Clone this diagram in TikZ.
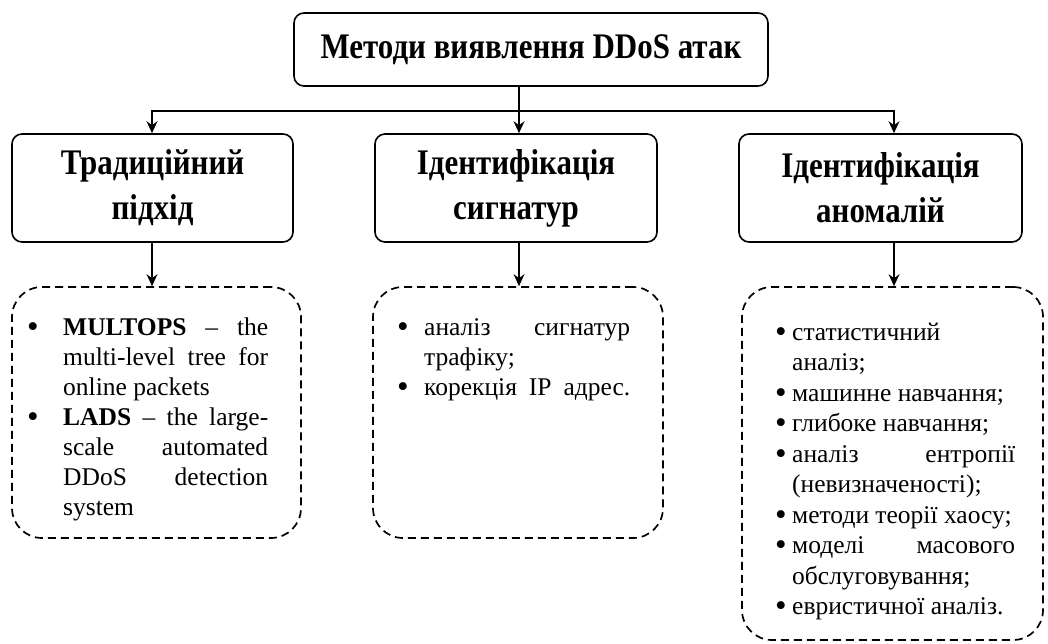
\documentclass[tikz,border=0pt]{standalone}
\usepackage{fontspec}
\setmainfont{Liberation Serif}
\newfontfamily\headfont[FakeStretch=0.86]{Liberation Serif}
\usetikzlibrary{arrows.meta}

\newcommand\bitem[2]{\par\noindent\hangindent=#1\hangafter=1\makebox[#1][l]{\raisebox{-2pt}{\fontsize{33}{30}\selectfont\textbullet}}\ignorespaces#2}

\begin{document}
\begin{tikzpicture}[x=1pt,y=-1pt,
  hbox/.style={draw, line width=1.6pt, rounded corners=10pt, align=center,
    font=\fontsize{36}{45}\selectfont\headfont\bfseries},
  dbox/.style={draw, line width=1.7pt, dash pattern=on 8pt off 5pt, rounded corners=30pt},
  lst/.style={anchor=base west, inner sep=0pt},
  wire/.style={line width=1.4pt, -{Stealth[length=12pt,width=11pt,inset=4pt]}}]
\useasboundingbox (0,0) rectangle (1048,644);
\node[hbox, minimum width=474pt, minimum height=73pt] (m0) at (531,49.5) {Методи виявлення DDoS атак};
\node[hbox, minimum width=281pt, minimum height=108pt] (m1) at (152.5,188) {Традиційний\\підхід};
\node[hbox, minimum width=282pt, minimum height=108pt] (m2) at (516,188) {Ідентифікація\\сигнатур};
\node[hbox, minimum width=283pt, minimum height=108pt] (m3) at (880.5,188) {Ідентифікація\\аномалій};
\node[dbox, minimum width=289pt, minimum height=251pt] (l1) at (156.5,412.5) {};
\node[dbox, minimum width=290pt, minimum height=251pt] (l2) at (518,412.5) {};
\node[dbox, minimum width=301pt, minimum height=353pt] (l3) at (892.5,463.5) {};
\node[lst] (t1) at (27,335) {\parbox[t]{241pt}{\fontsize{25.5}{30}\selectfont\hyphenpenalty=10000
  \bitem{36pt}{\textbf{MULTOPS} – the\linebreak multi-level tree for\linebreak online packets}
  \bitem{36pt}{\textbf{LADS} – the large-\linebreak scale automated\linebreak DDoS detection\linebreak system}}};
\node[lst] (t2) at (397,335) {\parbox[t]{233pt}{\fontsize{25.5}{30}\selectfont\hyphenpenalty=10000
  \bitem{27pt}{аналіз сигнатур\linebreak трафіку;}
  \bitem{27pt}{\parfillskip=0pt корекція IP адрес.}}};
\node[lst] (t3) at (775,340) {\parbox[t]{240pt}{\fontsize{25.5}{30.5}\selectfont\hyphenpenalty=10000
  \bitem{17pt}{статистичний\newline аналіз;}
  \bitem{17pt}{машинне навчання;}
  \bitem{17pt}{глибоке навчання;}
  \bitem{17pt}{аналіз ентропії\linebreak (невизначеності);}
  \bitem{17pt}{методи теорії хаосу;}
  \bitem{17pt}{моделі масового\linebreak обслуговування;}
  \bitem{17pt}{евристичної аналіз.}}};
\coordinate (j0) at (519,111);
\coordinate (j1) at (152,111);
\coordinate (j3) at (894,111);
\draw[wire, -] (m0.south -| j0) -- (j0);
\draw[wire] (j0) -- (j1) -- (j1 |- m1.north);
\draw[wire] (j0) -- (j3) -- (j3 |- m3.north);
\draw[wire] (j0) -- (j0 |- m2.north);
\draw[wire] (m1.south -| j1) -- (j1 |- l1.north);
\draw[wire] (m2.south -| j0) -- (j0 |- l2.north);
\draw[wire] (m3.south -| j3) -- (j3 |- l3.north);
\end{tikzpicture}
\end{document}
